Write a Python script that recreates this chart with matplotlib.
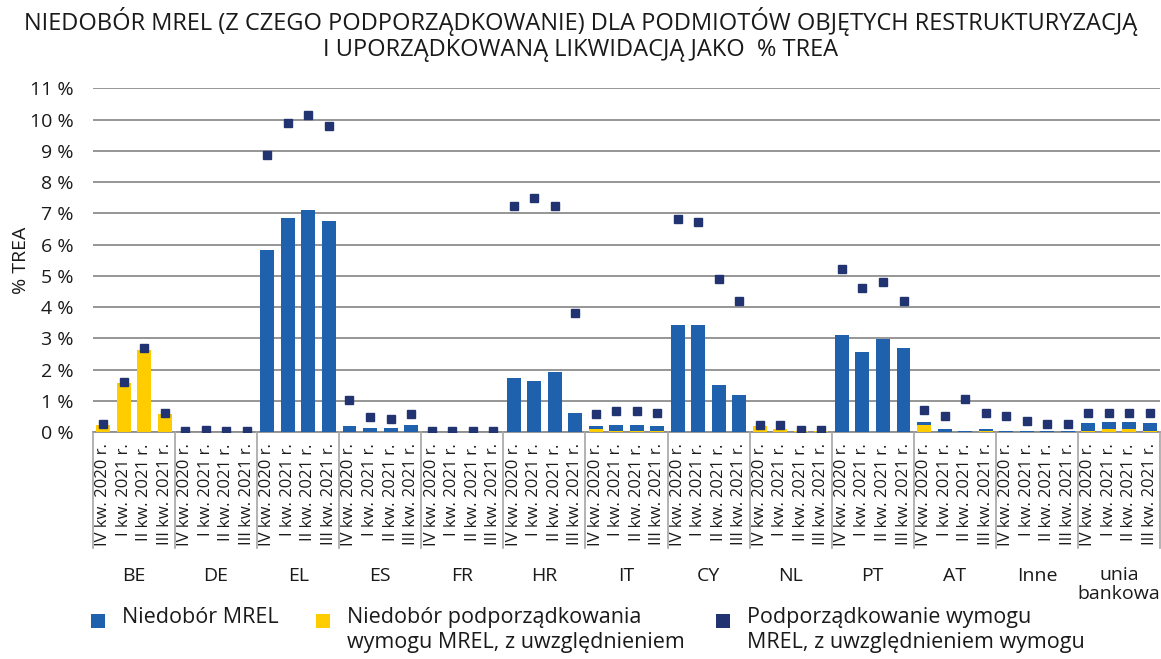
import matplotlib
matplotlib.use("Agg")
import matplotlib.pyplot as plt
from matplotlib.patches import Rectangle
import numpy as np

plt.rcParams['font.family'] = ['Open Sans', 'DejaVu Sans']

countries = ["BE", "DE", "EL", "ES", "FR", "HR", "IT", "CY", "NL", "PT", "AT", "Inne", "unia\nbankowa"]
quarters = ["IV kw. 2020 r.", "I kw. 2021 r.", "II kw. 2021 r.", "III kw. 2021 r."]

# Niedobór MREL (blue segment, stacked on top of yellow)
mrel = [
    0.00, 0.00, 0.00, 0.00,   # BE
    0.00, 0.00, 0.00, 0.00,   # DE
    5.83, 6.85, 7.10, 6.76,   # EL
    0.20, 0.14, 0.14, 0.23,   # ES
    0.00, 0.00, 0.00, 0.00,   # FR
    1.75, 1.65, 1.94, 0.62,   # HR
    0.10, 0.21, 0.21, 0.17,   # IT
    3.42, 3.42, 1.50, 1.18,   # CY
    0.00, 0.00, 0.00, 0.00,   # NL
    3.12, 2.58, 2.99, 2.68,   # PT
    0.09, 0.10, 0.05, 0.07,   # AT
    0.04, 0.04, 0.04, 0.04,   # Inne
    0.27, 0.23, 0.23, 0.27,   # unia bankowa
]
# Niedobór podporządkowania (yellow)
sub = [
    0.23, 1.57, 2.62, 0.59,
    0.00, 0.02, 0.00, 0.00,
    0.00, 0.00, 0.00, 0.00,
    0.00, 0.00, 0.00, 0.00,
    0.02, 0.02, 0.00, 0.00,
    0.00, 0.00, 0.00, 0.00,
    0.10, 0.03, 0.03, 0.03,
    0.00, 0.00, 0.00, 0.00,
    0.21, 0.10, 0.03, 0.03,
    0.00, 0.00, 0.00, 0.00,
    0.24, 0.00, 0.00, 0.03,
    0.00, 0.00, 0.00, 0.00,
    0.03, 0.10, 0.10, 0.03,
]
# Podporządkowanie wymogu MREL (markers)
req = [
    0.27, 1.62, 2.70, 0.63,
    0.05, 0.08, 0.05, 0.05,
    8.87, 9.90, 10.16, 9.80,
    1.04, 0.50, 0.43, 0.59,
    0.05, 0.05, 0.03, 0.03,
    7.24, 7.49, 7.24, 3.81,
    0.58, 0.68, 0.68, 0.62,
    6.82, 6.72, 4.89, 4.21,
    0.24, 0.24, 0.07, 0.07,
    5.22, 4.61, 4.80, 4.21,
    0.71, 0.52, 1.07, 0.63,
    0.52, 0.36, 0.27, 0.27,
    0.62, 0.62, 0.62, 0.62,
]

yticks = list(range(0, 12))
ytick_labels = [f"{v} %" for v in yticks]

BLUE = "#1F61AC"
YELLOW = "#FFCC00"
NAVY = "#213370"
GRID = "#8E8E8E"
TXT = "#1a1a1a"

W, H = 1161, 659
fig = plt.figure(figsize=(W / 100, H / 100), dpi=100)
ax = fig.add_axes([93 / W, 1 - 432.3 / H, 1067 / W, 344 / H])

n = len(mrel)
x = np.arange(n)
ax.bar(x, sub, width=0.68, color=YELLOW, zorder=3)
ax.bar(x, mrel, width=0.68, bottom=sub, color=BLUE, zorder=3)
ax.plot(x, req, linestyle="none", marker="s", markersize=6, color=NAVY, zorder=4)

ax.set_xlim(-0.5, n - 0.5)
ax.set_ylim(0, 11)
ax.set_yticks(yticks)
ax.set_yticklabels(ytick_labels, fontsize=14, color=TXT)
ax.yaxis.grid(True, color=GRID, linewidth=1.3, zorder=0)
ax.set_axisbelow(True)
for s in ax.spines.values():
    s.set_visible(False)
ax.tick_params(axis="y", length=0, pad=14)

xlabels = quarters * len(countries)
ax.set_xticks(x)
ax.set_xticklabels(xlabels, rotation=90, fontsize=12, color=TXT)
ax.tick_params(axis="x", length=0, pad=8)

tr = ax.get_xaxis_transform()
ax.plot([-0.5, n - 0.5], [0, 0], color=GRID, lw=1.3, transform=tr, clip_on=False, zorder=2)
for k in range(len(countries) + 1):
    xs = k * 4 - 0.5
    ax.plot([xs, xs], [0, -0.336], color="#A6A6A6", lw=1.2, transform=tr, clip_on=False)
for k, c in enumerate(countries):
    multi = "\n" in c
    ax.text(k * 4 + 1.5, -0.39 if multi else -0.418, c, transform=tr, ha="center",
            va="top" if multi else "center", fontsize=14, color=TXT, linespacing=1.05)

ax.set_ylabel("% TREA", fontsize=14, color=TXT)
ax.yaxis.set_label_coords(-63 / 1067, 0.5)

fig.text(0.5, 1 - 21 / H, "NIEDOBÓR MREL (Z CZEGO PODPORZĄDKOWANIE) DLA PODMIOTÓW OBJĘTYCH RESTRUKTURYZACJĄ",
         ha="center", va="center", fontsize=17, color=TXT)
fig.text(0.5, 1 - 50 / H, "I UPORZĄDKOWANĄ LIKWIDACJĄ JAKO  % TREA",
         ha="center", va="center", fontsize=17, color=TXT)

# legend
leg = [
    (91, BLUE, "Niedobór MREL"),
    (316, YELLOW, "Niedobór podporządkowania\nwymogu MREL, z uwzględnieniem"),
    (716, NAVY, "Podporządkowanie wymogu\nMREL, z uwzględnieniem wymogu"),
]
for px, col, lab in leg:
    fig.patches.append(Rectangle((px / W, 1 - 628 / H), 14 / W, 14 / H, transform=fig.transFigure,
                                 facecolor=col, edgecolor="none"))
    fig.text((px + 31) / W, 1 - 607 / H, lab, ha="left", va="top", fontsize=15.5, color=TXT, linespacing=1.25)

fig.savefig("out.png", dpi=100)
